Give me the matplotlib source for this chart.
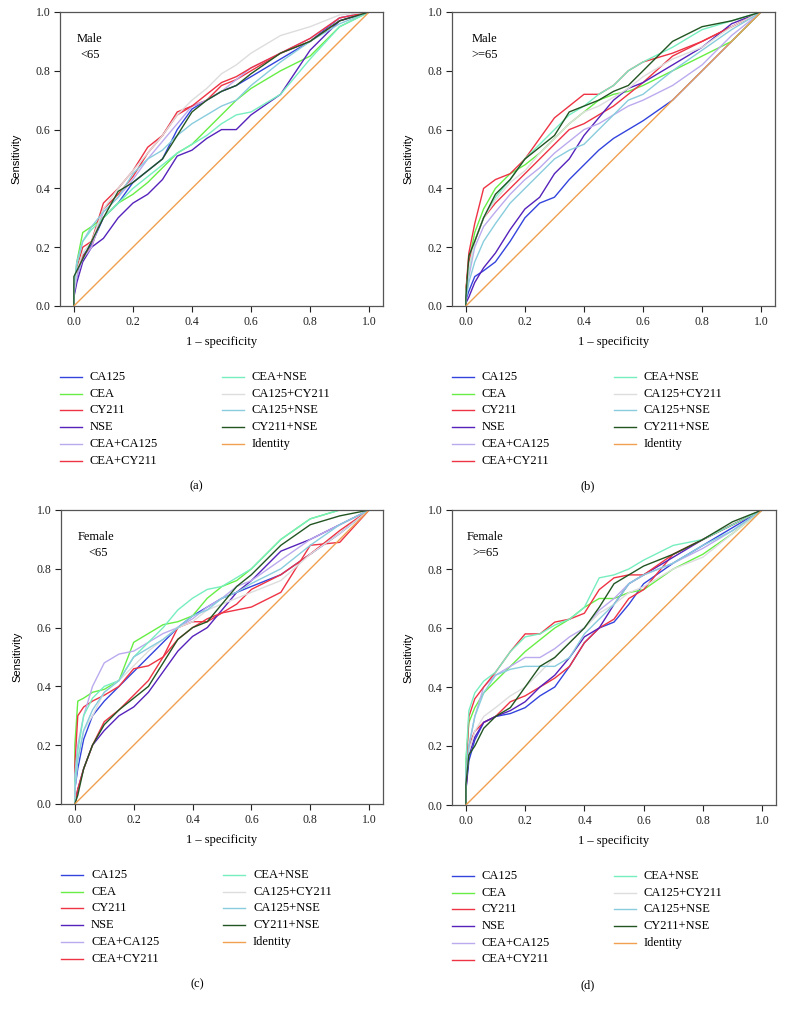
import matplotlib
matplotlib.use("Agg")
import matplotlib.pyplot as plt
from matplotlib.lines import Line2D

# 共用的 1 - specificity 网格（前两个 0 用于起点的竖直跳变）
fpr = [0, 0, 0.01, 0.03, 0.06, 0.1, 0.15, 0.2, 0.25, 0.3, 0.35, 0.4, 0.45,
       0.5, 0.55, 0.6, 0.7, 0.8, 0.9, 1.0]

markers = ["CA125", "CEA", "CY211", "NSE", "CEA+CA125", "CEA+CY211",
           "CEA+NSE", "CA125+CY211", "CA125+NSE", "CY211+NSE"]
colors = ["#3344dd", "#66ee44", "#ee3344", "#5522bb", "#bbaaee", "#ee3344",
          "#77eec0", "#dddddd", "#88ccdd", "#225522"]
identity_color = "#f0a050"

# (a) Male <65
male_lt65 = {
    "CA125":       [0, 0.05, 0.10, 0.17, 0.21, 0.30, 0.35, 0.42, 0.46, 0.50, 0.60, 0.67, 0.70, 0.73, 0.75, 0.78, 0.84, 0.90, 0.98, 1.0],
    "CEA":         [0, 0.05, 0.15, 0.25, 0.27, 0.30, 0.35, 0.38, 0.42, 0.47, 0.52, 0.55, 0.60, 0.65, 0.70, 0.74, 0.80, 0.85, 0.95, 1.0],
    "CY211":       [0, 0.05, 0.12, 0.17, 0.20, 0.33, 0.38, 0.44, 0.52, 0.58, 0.65, 0.68, 0.70, 0.75, 0.77, 0.80, 0.86, 0.90, 0.97, 1.0],
    "NSE":         [0, 0.03, 0.08, 0.15, 0.20, 0.23, 0.30, 0.35, 0.38, 0.43, 0.51, 0.53, 0.57, 0.60, 0.60, 0.65, 0.72, 0.87, 0.97, 1.0],
    "CEA+CA125":   [0, 0.04, 0.10, 0.16, 0.20, 0.32, 0.37, 0.43, 0.50, 0.56, 0.62, 0.68, 0.70, 0.73, 0.77, 0.81, 0.86, 0.91, 0.98, 1.0],
    "CEA+CY211":   [0, 0.06, 0.13, 0.20, 0.22, 0.35, 0.40, 0.46, 0.54, 0.58, 0.66, 0.68, 0.72, 0.76, 0.78, 0.81, 0.86, 0.91, 0.98, 1.0],
    "CEA+NSE":     [0, 0.05, 0.14, 0.22, 0.26, 0.30, 0.35, 0.40, 0.44, 0.48, 0.52, 0.55, 0.58, 0.62, 0.65, 0.66, 0.72, 0.84, 0.95, 1.0],
    "CA125+CY211": [0, 0.05, 0.12, 0.18, 0.22, 0.33, 0.40, 0.46, 0.52, 0.58, 0.65, 0.70, 0.74, 0.79, 0.82, 0.86, 0.92, 0.95, 0.99, 1.0],
    "CA125+NSE":   [0, 0.06, 0.15, 0.22, 0.27, 0.32, 0.37, 0.45, 0.50, 0.53, 0.58, 0.62, 0.65, 0.68, 0.70, 0.75, 0.83, 0.90, 0.96, 1.0],
    "CY211+NSE":   [0, 0.10, 0.12, 0.16, 0.22, 0.30, 0.39, 0.42, 0.46, 0.50, 0.58, 0.66, 0.70, 0.73, 0.75, 0.79, 0.86, 0.90, 0.97, 1.0],
}

# (b) Male >=65
male_ge65 = {
    "CA125":       [0, 0.02, 0.05, 0.10, 0.12, 0.15, 0.22, 0.30, 0.35, 0.37, 0.43, 0.48, 0.53, 0.57, 0.60, 0.63, 0.70, 0.80, 0.90, 1.0],
    "CEA":         [0, 0.05, 0.15, 0.25, 0.33, 0.40, 0.45, 0.48, 0.52, 0.57, 0.62, 0.66, 0.70, 0.72, 0.73, 0.75, 0.80, 0.85, 0.90, 1.0],
    "CY211":       [0, 0.05, 0.15, 0.22, 0.30, 0.35, 0.40, 0.45, 0.50, 0.55, 0.60, 0.62, 0.65, 0.68, 0.72, 0.76, 0.85, 0.90, 0.95, 1.0],
    "NSE":         [0, 0.01, 0.03, 0.08, 0.13, 0.18, 0.26, 0.33, 0.37, 0.45, 0.50, 0.58, 0.64, 0.70, 0.74, 0.76, 0.82, 0.88, 0.96, 1.0],
    "CEA+CA125":   [0, 0.03, 0.10, 0.20, 0.27, 0.32, 0.38, 0.43, 0.47, 0.52, 0.56, 0.60, 0.62, 0.65, 0.68, 0.70, 0.75, 0.82, 0.92, 1.0],
    "CEA+CY211":   [0, 0.05, 0.18, 0.28, 0.40, 0.43, 0.45, 0.50, 0.57, 0.64, 0.68, 0.72, 0.72, 0.75, 0.80, 0.83, 0.86, 0.90, 0.95, 1.0],
    "CEA+NSE":     [0, 0.05, 0.12, 0.22, 0.30, 0.37, 0.43, 0.50, 0.55, 0.60, 0.65, 0.68, 0.72, 0.75, 0.80, 0.83, 0.88, 0.94, 0.97, 1.0],
    "CA125+CY211": [0, 0.04, 0.13, 0.22, 0.30, 0.36, 0.42, 0.46, 0.52, 0.57, 0.62, 0.66, 0.68, 0.71, 0.74, 0.78, 0.84, 0.88, 0.95, 1.0],
    "CA125+NSE":   [0, 0.02, 0.08, 0.15, 0.22, 0.28, 0.35, 0.40, 0.45, 0.50, 0.53, 0.55, 0.60, 0.65, 0.70, 0.72, 0.80, 0.87, 0.94, 1.0],
    "CY211+NSE":   [0, 0.03, 0.17, 0.22, 0.30, 0.38, 0.43, 0.50, 0.54, 0.58, 0.66, 0.68, 0.70, 0.73, 0.75, 0.80, 0.90, 0.95, 0.97, 1.0],
}

# (c) Female <65
female_lt65 = {
    "CA125":       [0, 0.05, 0.12, 0.22, 0.30, 0.35, 0.40, 0.45, 0.50, 0.55, 0.60, 0.64, 0.67, 0.70, 0.72, 0.74, 0.78, 0.85, 0.92, 1.0],
    "CEA":         [0, 0.20, 0.35, 0.36, 0.38, 0.39, 0.42, 0.55, 0.58, 0.61, 0.62, 0.64, 0.70, 0.74, 0.76, 0.80, 0.90, 0.97, 1.00, 1.0],
    "CY211":       [0, 0.13, 0.30, 0.33, 0.35, 0.37, 0.40, 0.46, 0.47, 0.50, 0.60, 0.62, 0.62, 0.65, 0.68, 0.73, 0.78, 0.85, 0.93, 1.0],
    "NSE":         [0, 0.00, 0.05, 0.12, 0.20, 0.25, 0.30, 0.33, 0.38, 0.45, 0.52, 0.57, 0.60, 0.66, 0.72, 0.76, 0.86, 0.90, 0.95, 1.0],
    "CEA+CA125":   [0, 0.10, 0.20, 0.30, 0.40, 0.48, 0.51, 0.52, 0.55, 0.58, 0.60, 0.63, 0.67, 0.70, 0.74, 0.76, 0.83, 0.90, 0.95, 1.0],
    "CEA+CY211":   [0, 0.00, 0.05, 0.12, 0.20, 0.28, 0.32, 0.37, 0.42, 0.50, 0.56, 0.60, 0.63, 0.65, 0.66, 0.67, 0.72, 0.88, 0.89, 1.0],
    "CEA+NSE":     [0, 0.08, 0.18, 0.30, 0.36, 0.40, 0.42, 0.50, 0.55, 0.60, 0.66, 0.70, 0.73, 0.74, 0.77, 0.80, 0.90, 0.97, 1.00, 1.0],
    "CA125+CY211": [0, 0.05, 0.15, 0.25, 0.30, 0.38, 0.42, 0.47, 0.52, 0.56, 0.60, 0.62, 0.66, 0.68, 0.70, 0.72, 0.76, 0.85, 0.92, 1.0],
    "CA125+NSE":   [0, 0.05, 0.15, 0.25, 0.32, 0.38, 0.42, 0.50, 0.53, 0.56, 0.60, 0.64, 0.66, 0.70, 0.72, 0.75, 0.80, 0.88, 0.95, 1.0],
    "CY211+NSE":   [0, 0.00, 0.03, 0.12, 0.20, 0.27, 0.32, 0.36, 0.40, 0.48, 0.56, 0.60, 0.62, 0.68, 0.74, 0.78, 0.88, 0.95, 0.98, 1.0],
}

# (d) Female >=65
female_ge65 = {
    "CA125":       [0, 0.05, 0.15, 0.22, 0.28, 0.30, 0.31, 0.33, 0.37, 0.40, 0.47, 0.55, 0.60, 0.62, 0.68, 0.75, 0.82, 0.88, 0.94, 1.0],
    "CEA":         [0, 0.15, 0.28, 0.33, 0.38, 0.42, 0.47, 0.52, 0.56, 0.60, 0.63, 0.67, 0.70, 0.70, 0.72, 0.73, 0.80, 0.85, 0.92, 1.0],
    "CY211":       [0, 0.05, 0.20, 0.25, 0.28, 0.30, 0.35, 0.37, 0.40, 0.43, 0.47, 0.55, 0.60, 0.63, 0.70, 0.73, 0.85, 0.90, 0.95, 1.0],
    "NSE":         [0, 0.05, 0.17, 0.23, 0.28, 0.30, 0.32, 0.35, 0.40, 0.44, 0.50, 0.57, 0.60, 0.68, 0.75, 0.78, 0.84, 0.90, 0.95, 1.0],
    "CEA+CA125":   [0, 0.10, 0.20, 0.30, 0.40, 0.44, 0.47, 0.50, 0.50, 0.53, 0.57, 0.60, 0.66, 0.70, 0.75, 0.78, 0.82, 0.87, 0.93, 1.0],
    "CEA+CY211":   [0, 0.10, 0.30, 0.36, 0.40, 0.45, 0.52, 0.58, 0.58, 0.62, 0.63, 0.65, 0.73, 0.77, 0.78, 0.78, 0.85, 0.90, 0.95, 1.0],
    "CEA+NSE":     [0, 0.15, 0.32, 0.38, 0.42, 0.45, 0.52, 0.57, 0.58, 0.61, 0.63, 0.67, 0.77, 0.78, 0.80, 0.83, 0.88, 0.90, 0.95, 1.0],
    "CA125+CY211": [0, 0.08, 0.18, 0.25, 0.30, 0.33, 0.37, 0.40, 0.45, 0.50, 0.55, 0.60, 0.65, 0.68, 0.72, 0.74, 0.80, 0.84, 0.92, 1.0],
    "CA125+NSE":   [0, 0.10, 0.20, 0.30, 0.38, 0.44, 0.46, 0.47, 0.47, 0.47, 0.50, 0.58, 0.63, 0.68, 0.75, 0.78, 0.82, 0.88, 0.93, 1.0],
    "CY211+NSE":   [0, 0.07, 0.17, 0.20, 0.26, 0.30, 0.33, 0.40, 0.47, 0.50, 0.55, 0.60, 0.67, 0.75, 0.78, 0.81, 0.85, 0.90, 0.96, 1.0],
}

panels = [male_lt65, male_ge65, female_lt65, female_ge65]
group_sex = ["Male", "Male", "Female", "Female"]
group_age = ["<65", ">=65", "<65", ">=65"]
panel_tags = ["(a)", "(b)", "(c)", "(d)"]

W, H = 785, 1009
serif = ["Liberation Serif", "DejaVu Serif"]
plt.rcParams["font.family"] = serif

fig = plt.figure(figsize=(W / 100, H / 100), dpi=100)

# 每个子图的像素位置：左、上、右、下
boxes = [(60, 12, 383, 306), (452, 12, 775, 306),
         (61, 510, 383, 804), (452, 510, 776, 805)]
# 组别文字相对坐标轴左上角的像素偏移
sex_dx = [17, 20, 17, 15]
age_dx = [20, 19, 27, 20]

for i, data in enumerate(panels):
    l, t, r, b = boxes[i]
    ax = fig.add_axes([l / W, 1 - b / H, (r - l) / W, (b - t) / H])
    handles = []
    for name, col in zip(markers, colors):
        ln, = ax.plot(fpr, data[name], color=col, lw=1.0, label=name)
        handles.append(ln)
    idl, = ax.plot([0, 1], [0, 1], color=identity_color, lw=1.0, label="Identity")
    handles.append(idl)

    ax.set_xlim(-0.047, 1.047)
    ax.set_ylim(0, 1)
    ax.set_xticks([0, 0.2, 0.4, 0.6, 0.8, 1.0])
    ax.set_yticks([0, 0.2, 0.4, 0.6, 0.8, 1.0])
    ax.xaxis.set_major_formatter(plt.FormatStrFormatter("%.1f"))
    ax.yaxis.set_major_formatter(plt.FormatStrFormatter("%.1f"))
    ax.tick_params(direction="out", length=4, width=0.8, labelsize=8.5,
                   colors="#222222", pad=3)
    for sp in ax.spines.values():
        sp.set_color("#555555")
        sp.set_linewidth(0.9)
    ax.set_xlabel("1 \u2013 specificity", fontsize=9, labelpad=6)
    ax.set_ylabel("Sensitivity", fontsize=8, family=["Liberation Sans", "DejaVu Sans"],
                  labelpad=10)

    ax.text(sex_dx[i] / (r - l), 1 - 27 / (b - t), group_sex[i],
            transform=ax.transAxes, fontsize=9, va="center", ha="left")
    ax.text(age_dx[i] / (r - l), 1 - 43 / (b - t), group_age[i],
            transform=ax.transAxes, fontsize=9, va="center", ha="left")

    # 图例：两列，第一列 6 项，第二列 5 项
    for k, h in enumerate(handles):
        col_i, row_i = (0, k) if k < 6 else (1, k - 6)
        x0 = l + col_i * 162
        y0 = b + 71 + row_i * 16.7
        fig.add_artist(Line2D([x0 / W, (x0 + 22) / W], [1 - y0 / H, 1 - y0 / H],
                              color=h.get_color(), lw=1.0,
                              transform=fig.transFigure))
        fig.text((x0 + 30) / W, 1 - y0 / H, h.get_label(), fontsize=9,
                 va="center", ha="left")

    fig.text((l - 60 + 196) / W, 1 - (b + 180) / H, panel_tags[i], fontsize=9,
             ha="center", va="center")

fig.savefig("out.png", dpi=100)
